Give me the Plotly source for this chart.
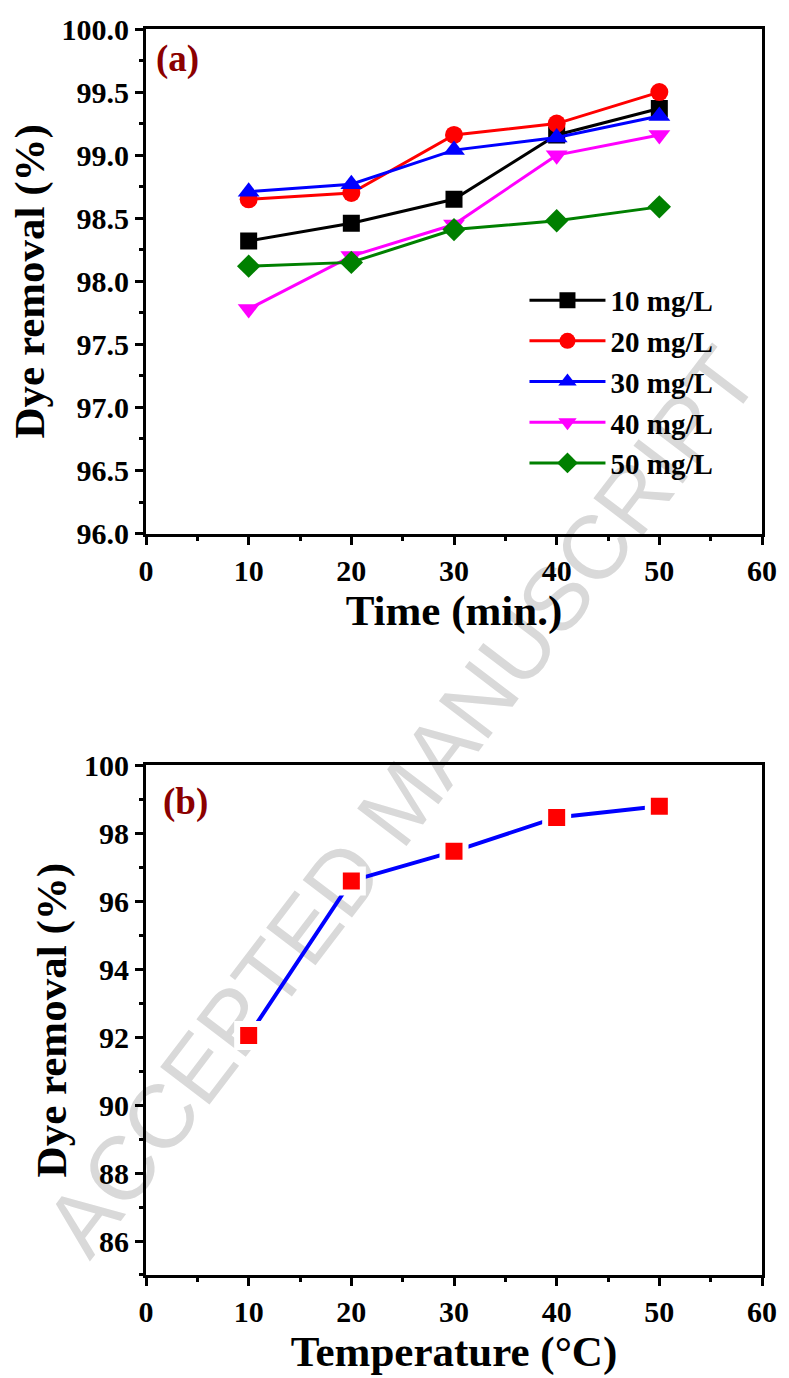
import plotly.graph_objects as go

# ---------------- data ----------------
time_min = [10, 20, 30, 40, 50]
series_names = ["10 mg/L", "20 mg/L", "30 mg/L", "40 mg/L", "50 mg/L"]
removal_10 = [98.32, 98.46, 98.65, 99.16, 99.37]
removal_20 = [98.65, 98.70, 99.16, 99.25, 99.50]
removal_30 = [98.71, 98.77, 99.04, 99.14, 99.31]
removal_40 = [97.78, 98.20, 98.45, 99.00, 99.16]
removal_50 = [98.12, 98.15, 98.41, 98.48, 98.59]

temperature_c = [10, 20, 30, 40, 50]
removal_temp = [92.05, 96.60, 97.47, 98.47, 98.80]

# ---------------- styles ----------------
series_values = [removal_10, removal_20, removal_30, removal_40, removal_50]
series_colors = ["#000000", "#ff0000", "#0000ff", "#ff00ff", "#008000"]
series_symbols = ["square", "circle", "triangle-up", "triangle-down", "diamond"]
series_sizes = [17, 18, 19, 19, 18]

FONT = "Liberation Serif"
W, H = 789, 1378
ML, MR, MT, MB = 146, 18, 28, 103
PW = W - ML - MR
PH = H - MT - MB


def px_to_paper(px, py):
    return (px - ML) / PW, 1 - (py - MT) / PH


fig = go.Figure()

for name, vals, col, sym, sz in zip(series_names, series_values, series_colors,
                                    series_symbols, series_sizes):
    fig.add_trace(go.Scatter(
        x=time_min, y=vals, name=name, mode="lines+markers",
        line=dict(color=col, width=3),
        marker=dict(symbol=sym, size=sz, color=col, line=dict(width=0)),
        xaxis="x", yaxis="y", showlegend=True,
    ))

fig.add_trace(go.Scatter(
    x=temperature_c, y=removal_temp, mode="lines+markers",
    line=dict(color="#0000ff", width=4),
    marker=dict(symbol="square", size=23, color="#ff0000",
                line=dict(color="#ffffff", width=6)),
    xaxis="x2", yaxis="y2", showlegend=False,
))

top_lo = 1 - (533 - MT) / PH
bot_hi = 1 - (765 - MT) / PH

axis_common = dict(
    showline=True, linecolor="black", linewidth=3, mirror=True,
    showgrid=False, zeroline=False,
    ticks="outside", ticklen=8, tickwidth=3, tickcolor="black",
    tickfont=dict(family=FONT, size=30, color="black", weight="bold"),
)
minor_common = dict(ticks="outside", ticklen=4, tickwidth=3, tickcolor="black")
title_font = dict(family=FONT, size=43, color="black", weight="bold")

fig.update_layout(
    width=W, height=H,
    margin=dict(l=ML, r=MR, t=MT, b=MB),
    paper_bgcolor="white", plot_bgcolor="rgba(0,0,0,0)",
    xaxis=dict(domain=[0, 1], anchor="y", range=[0, 60], dtick=10, tick0=0,
               minor=dict(dtick=5, **minor_common),
               title=dict(text="Time (min.)", font=title_font, standoff=6),
               **axis_common),
    yaxis=dict(domain=[top_lo, 1], anchor="x", range=[96, 100], dtick=0.5, tick0=96,
               tickformat=".1f",
               minor=dict(dtick=0.25, **minor_common),
               title=dict(text="Dye removal (%)", font=title_font, standoff=4),
               **axis_common),
    xaxis2=dict(domain=[0, 1], anchor="y2", range=[0, 60], dtick=10, tick0=0,
                minor=dict(dtick=5, **minor_common),
                title=dict(text="Temperature (°C)", font=title_font, standoff=0),
                **axis_common),
    yaxis2=dict(domain=[0, bot_hi], anchor="x2", range=[85, 100], dtick=2, tick0=86,
                minor=dict(dtick=1, tick0=85, **minor_common),
                title=dict(text="Dye removal (%)", font=title_font, standoff=4),
                **axis_common),
    legend=dict(
        x=(530 - ML) / PW, y=1 - (274 - MT) / PH, xanchor="left", yanchor="top",
        bgcolor="rgba(0,0,0,0)", borderwidth=0,
        font=dict(family=FONT, size=29, color="black", weight="bold"),
        itemwidth=76, tracegroupgap=0,
    ),
)

# panel labels
ax, ay = px_to_paper(178, 58)
bx, by = px_to_paper(186, 802)
for txt, xx, yy in [("(a)", ax, ay), ("(b)", bx, by)]:
    fig.add_annotation(x=xx, y=yy, xref="paper", yref="paper", text=txt,
                       showarrow=False, xanchor="center", yanchor="middle",
                       font=dict(family=FONT, size=37, color="#8b0000", weight="bold"))

# watermark (drawn below the data)
x0, y0 = px_to_paper(27, 1283)
x1, y1 = px_to_paper(769, 308)
fig.add_shape(type="line", xref="paper", yref="paper", x0=x0, y0=y0, x1=x1, y1=y1,
              layer="below", line=dict(color="rgba(0,0,0,0)", width=0),
              label=dict(text="ACCEPTED MANUSCRIPT", textposition="middle",
                         xanchor="center", yanchor="middle", textangle=-52.7,
                         font=dict(family="Liberation Sans", size=90, color="#d9d9d9")))

fig.write_html("out.html")
